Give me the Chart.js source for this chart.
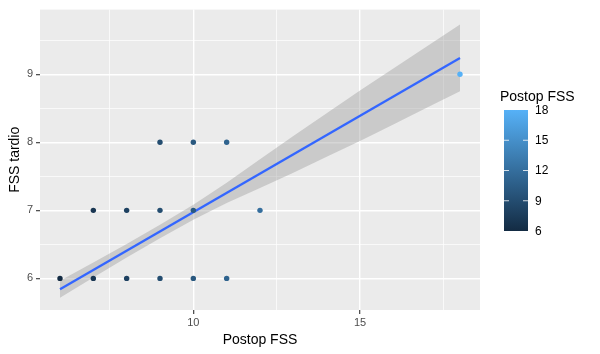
<!DOCTYPE html>
<html>
<head>
<meta charset="utf-8">
<script src="https://cdn.jsdelivr.net/npm/chart.js@4.4.1/dist/chart.umd.min.js"></script>
<style>
html,body{margin:0;padding:0;background:#fff;}
#wrap{width:600px;height:354px;}
</style>
</head>
<body>
<div id="wrap"><canvas id="c" width="600" height="354"></canvas></div>
<script>
// ---- data ----
const postopFSS = [6, 7, 7, 8, 8, 9, 9, 9, 10, 10, 10, 11, 11, 12, 18];
const fssTardio = [6, 6, 7, 6, 7, 6, 7, 8, 6, 7, 8, 6, 8, 7, 9];

const fitX     = [6, 18];
const fitY     = [5.84, 9.24];

const bandX    = [6, 7, 8, 9, 10, 11, 12, 13, 14, 15, 16, 17, 18];
const bandLow  = [5.715, 6.013, 6.307, 6.59, 6.863, 7.107, 7.33, 7.553, 7.787, 8.02, 8.263, 8.507, 8.75];
const bandHigh = [5.965, 6.233, 6.507, 6.79, 7.083, 7.407, 7.75, 8.093, 8.427, 8.76, 9.083, 9.407, 9.73];

const xTicks = [7.5, 10, 12.5, 15, 17.5];
const yTicks = [6, 6.5, 7, 7.5, 8, 8.5, 9, 9.5];
const legendTicks = [6, 9, 12, 15, 18];
const colorMin = 6, colorMax = 18;

// ---- colour scale (ggplot default continuous) ----
const lowC = [19, 43, 67], highC = [86, 177, 247];
function scaleColor(v) {
  const t = Math.max(0, Math.min(1, (v - colorMin) / (colorMax - colorMin)));
  const c = lowC.map((l, i) => Math.round(l + (highC[i] - l) * t));
  return `rgb(${c[0]},${c[1]},${c[2]})`;
}

const pts = postopFSS.map((x, i) => ({x: x, y: fssTardio[i]}));
const ptColors = postopFSS.map(scaleColor);
const fitPts = fitX.map((x, i) => ({x: x, y: fitY[i]}));
const lowPts = bandX.map((x, i) => ({x: x, y: bandLow[i]}));
const highPts = bandX.map((x, i) => ({x: x, y: bandHigh[i]}));

const FONT = '"Liberation Sans", Arial, sans-serif';

const decor = {
  id: 'decor',
  beforeDraw(chart) {
    const ctx = chart.ctx, a = chart.chartArea;
    ctx.save();
    ctx.fillStyle = '#ffffff';
    ctx.fillRect(0, 0, chart.width, chart.height);
    ctx.fillStyle = '#EBEBEB';
    ctx.fillRect(a.left, a.top, a.right - a.left, a.bottom - a.top);
    ctx.restore();
  },
  afterDraw(chart) {
    const ctx = chart.ctx, a = chart.chartArea;
    ctx.save();
    // axis titles
    ctx.fillStyle = '#000';
    ctx.font = '14px ' + FONT;
    ctx.textAlign = 'center';
    ctx.textBaseline = 'middle';
    ctx.fillText('Postop FSS', (a.left + a.right) / 2, 340);
    ctx.save();
    ctx.translate(15, (a.top + a.bottom) / 2);
    ctx.rotate(-Math.PI / 2);
    ctx.fillText('FSS tardio', 0, 0);
    ctx.restore();
    // colourbar legend
    const bx = 504, bw = 24, by0 = 231, by1 = 110; // by0: value 6, by1: value 18
    ctx.textAlign = 'left';
    ctx.textBaseline = 'alphabetic';
    ctx.font = '14px ' + FONT;
    ctx.fillText('Postop FSS', 500, 101);
    const g = ctx.createLinearGradient(0, by1, 0, by0);
    g.addColorStop(0, scaleColor(colorMax));
    g.addColorStop(1, scaleColor(colorMin));
    ctx.fillStyle = g;
    ctx.fillRect(bx, by1, bw, by0 - by1);
    ctx.font = '12px ' + FONT;
    ctx.textBaseline = 'middle';
    legendTicks.forEach(v => {
      const y = by0 - (v - colorMin) / (colorMax - colorMin) * (by0 - by1);
      ctx.fillStyle = '#000';
      ctx.fillText(String(v), 535, y + 0.5);
      if (v > colorMin && v < colorMax) {
        ctx.strokeStyle = 'rgba(255,255,255,0.8)';
        ctx.lineWidth = 1;
        ctx.beginPath();
        ctx.moveTo(bx, y); ctx.lineTo(bx + 5, y);
        ctx.moveTo(bx + bw - 5, y); ctx.lineTo(bx + bw, y);
        ctx.stroke();
      }
    });
    ctx.restore();
  }
};

new Chart(document.getElementById('c'), {
  type: 'scatter',
  data: {
    datasets: [
      {
        label: 'points',
        data: pts,
        pointRadius: 2.7,
        pointHoverRadius: 2.7,
        pointBackgroundColor: ptColors,
        pointBorderColor: ptColors,
        pointBorderWidth: 0,
        showLine: false
      },
      {
        label: 'fit',
        data: fitPts,
        showLine: true,
        borderColor: '#3366FF',
        borderWidth: 2.3,
        pointRadius: 0,
        fill: false
      },
      {
        label: 'high',
        data: highPts,
        showLine: true,
        borderWidth: 0,
        borderColor: 'rgba(0,0,0,0)',
        pointRadius: 0,
        backgroundColor: 'rgba(153,153,153,0.4)',
        fill: '+1'
      },
      {
        label: 'low',
        data: lowPts,
        showLine: true,
        borderWidth: 0,
        borderColor: 'rgba(0,0,0,0)',
        pointRadius: 0,
        fill: false
      }
    ]
  },
  options: {
    responsive: false,
    animation: false,
    devicePixelRatio: 1,
    layout: {padding: {left: 0, right: 120, top: 8, bottom: 0}},
    plugins: {legend: {display: false}, tooltip: {enabled: false}},
    scales: {
      x: {
        type: 'linear',
        min: 5.4, max: 18.6,
        afterBuildTicks: s => { s.ticks = xTicks.map(v => ({value: v})); },
        afterFit: s => { s.height = 44; },
        border: {display: false},
        grid: {
          color: '#FFFFFF',
          lineWidth: c => (c.tick && c.tick.value % 5 === 0) ? 1.4 : 0.7,
          tickColor: c => (c.tick && c.tick.value % 5 === 0) ? '#333333' : 'rgba(0,0,0,0)',
          tickLength: 4,
          tickWidth: 1.1
        },
        ticks: {
          autoSkip: false,
          maxRotation: 0,
          padding: 2,
          color: '#4D4D4D',
          font: {family: FONT, size: 11},
          callback: v => (v % 5 === 0) ? String(v) : ''
        }
      },
      y: {
        type: 'linear',
        min: 5.536, max: 9.95,
        afterBuildTicks: s => { s.ticks = yTicks.map(v => ({value: v})); },
        afterFit: s => { s.width = 40; },
        border: {display: false},
        grid: {
          color: '#FFFFFF',
          lineWidth: c => (c.tick && Number.isInteger(c.tick.value)) ? 1.4 : 0.7,
          tickColor: c => (c.tick && Number.isInteger(c.tick.value)) ? '#333333' : 'rgba(0,0,0,0)',
          tickLength: 4,
          tickWidth: 1.1
        },
        ticks: {
          autoSkip: false,
          padding: 3,
          color: '#4D4D4D',
          font: {family: FONT, size: 11},
          callback: v => Number.isInteger(v) ? String(v) : ''
        }
      }
    }
  },
  plugins: [decor]
});
</script>
</body>
</html>
